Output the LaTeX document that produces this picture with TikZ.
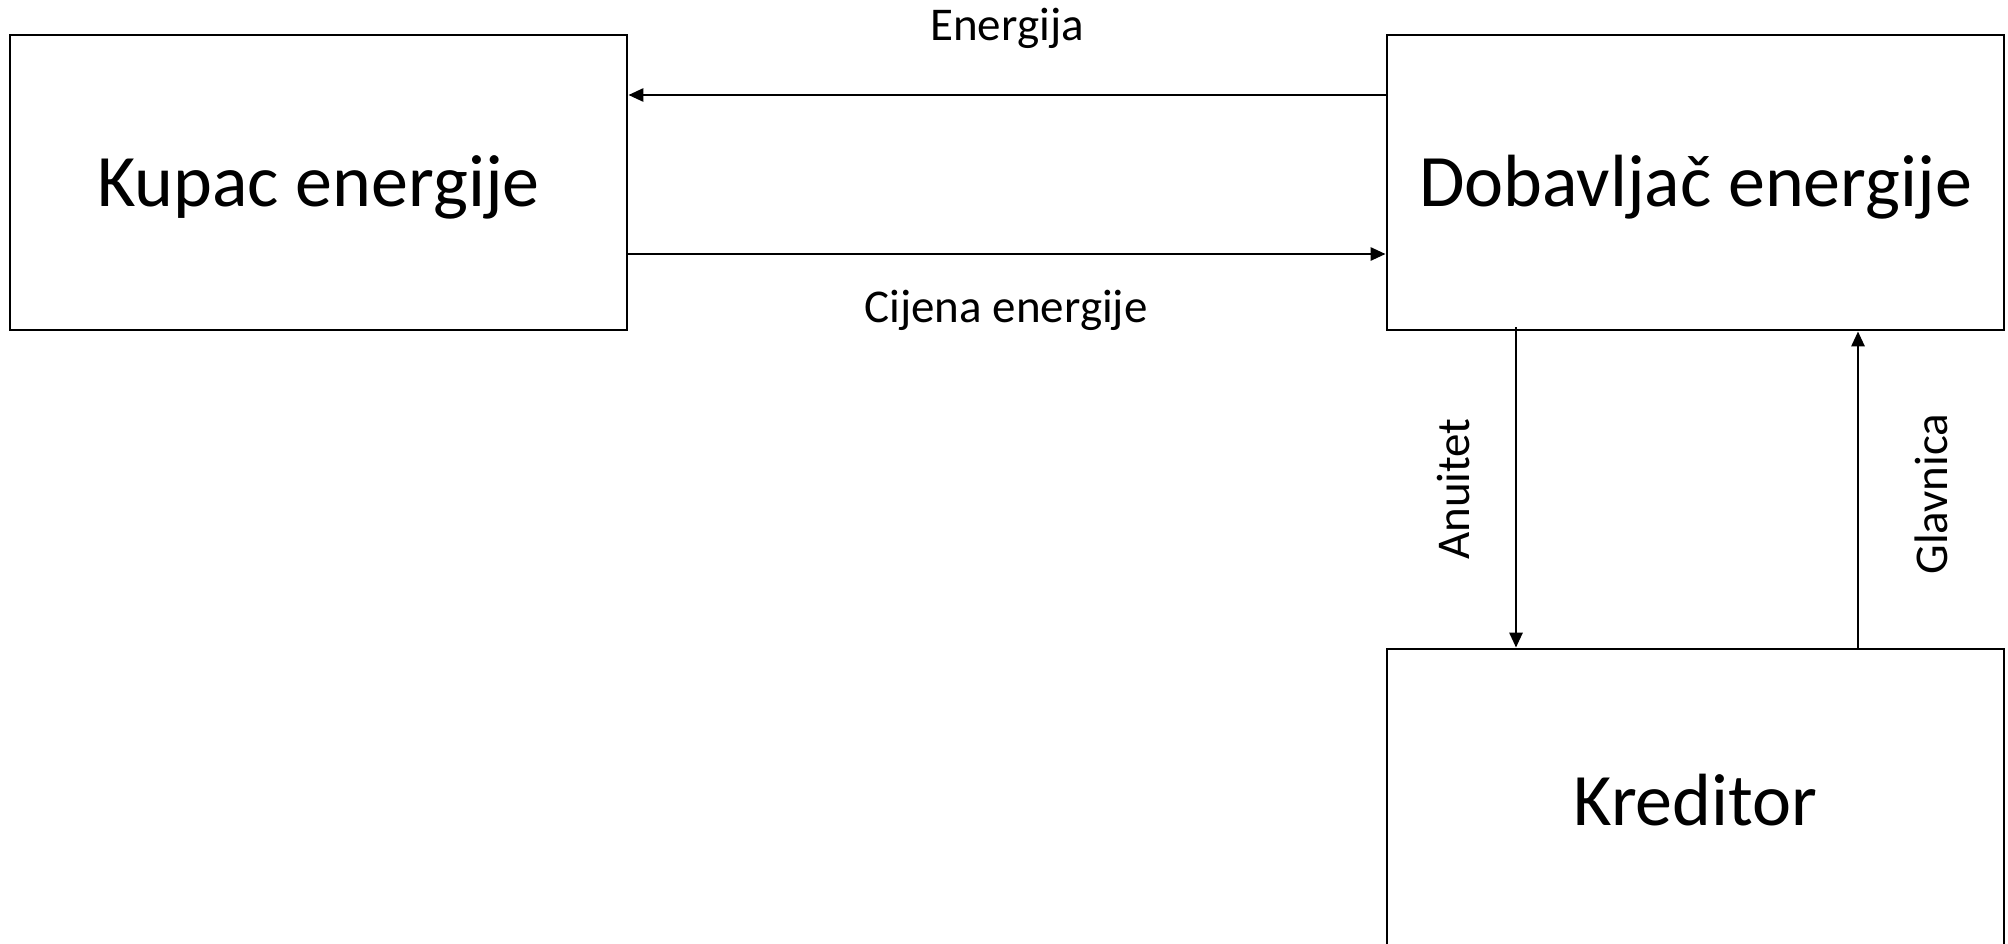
\documentclass[tikz,border=0pt]{standalone}
\usepackage{fontspec}
\setmainfont{Carlito}
\usetikzlibrary{arrows.meta}
\begin{document}
\begin{tikzpicture}[x=1pt,y=-1pt,
  box/.style={draw,line width=2.8pt,inner sep=0pt,minimum width=617pt,text height=47.5pt,text depth=0pt,font=\fontsize{74}{80}\selectfont},
  arr/.style={line width=2.8pt,-{Triangle[length=15pt,width=13pt]}},
  lbl/.style={font=\fontsize{47}{52}\selectfont,inner sep=0pt}]
\clip (0,0) rectangle (2008,943);
\fill[white] (0,0) rectangle (2008,943);
\node[box,minimum height=295pt] (kup) at (318.5,182.5) {Kupac energije};
\node[box,minimum height=295pt] (dob) at (1695.5,182.5) {Dobavljač energije};
\node[box,minimum height=306pt] (kre) at (1695.5,802) {Kreditor};
\coordinate (eY) at (0,95);
\coordinate (cY) at (0,254);
\coordinate (aX) at (1516,0);
\coordinate (gX) at (1858,0);
\draw[arr] (dob.west |- eY) -- (kup.east |- eY);
\draw[arr] (kup.east |- cY) -- (dob.west |- cY);
\draw[arr] ([yshift=4pt]aX |- dob.south) -- (aX |- kre.north);
\draw[arr] (gX |- kre.north) -- (gX |- dob.south);
\node[lbl] (lE) at (1007,28) {Energija};
\node[lbl] (lC) at (1006,310) {Cijena energije};
\node[lbl,rotate=90] (lA) at (1453,489) {Anuitet};
\node[lbl,rotate=90] (lG) at (1931,494) {Glavnica};
\end{tikzpicture}
\end{document}
